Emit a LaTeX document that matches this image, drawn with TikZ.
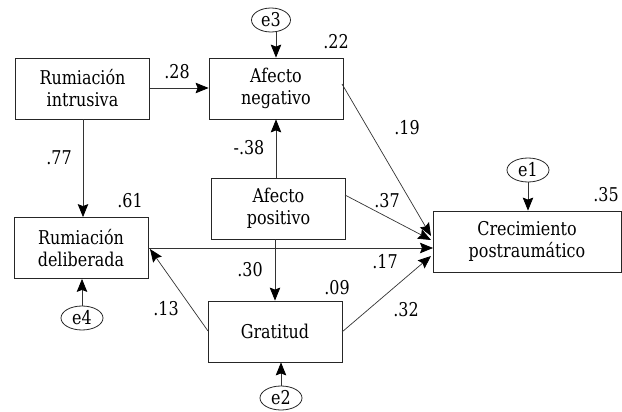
\documentclass[tikz,border=0pt]{standalone}
\usepackage{fontspec}
\setmainfont[FakeStretch=0.84]{DejaVu Serif}
\usetikzlibrary{arrows.meta,calc,shapes.geometric}
\begin{document}
\begin{tikzpicture}[x=1pt,y=-1pt,
  txt/.style={font=\fontsize{19}{22}\selectfont},
  box/.style={txt,draw=black!85,line width=0.8pt,minimum width=134pt,minimum height=61pt,align=center,inner sep=0pt},
  err/.style={txt,draw=black!85,line width=0.8pt,ellipse,minimum width=42pt,minimum height=24pt,inner sep=0pt},
  lab/.style={txt,inner sep=0pt},
  arr/.style={draw=black!80,line width=0.7pt,-{Stealth[length=13pt,width=10.5pt,inset=2pt,color=black]}}
]
\useasboundingbox (0,0) rectangle (622,412);
% boxes
\node[box] (RI) at (82.5,88.5) {Rumiación\\intrusiva};
\node[box] (AN) at (276,88.5) {Afecto\\negativo};
\node[box] (AP) at (278.5,208.5) {Afecto\\positivo};
\node[box] (RD) at (81,248) {Rumiación\\deliberada};
\node[box] (G) at (275,331.5) {Gratitud};
\node[box,minimum width=188pt] (C) at (527,241.5) {Crecimiento\\postraumático};
% errors
\node[err,minimum width=39pt] (e3) at (271,20) {e3};
\node[err] (e1) at (528,170) {e1};
\node[err] (e4) at (82,318) {e4};
\node[err] (e2) at (281,398) {e2};
% coordinates
\coordinate (rie) at (150,88);
\coordinate (rdn) at (83,217.5);
\coordinate (rdtip) at (150,249);
\coordinate (ane) at (342,84);
\coordinate (ape) at (345,195);
\coordinate (gw) at (208,331);
\coordinate (ge) at (342,332);
\coordinate (cA) at (431,236);
\coordinate (cP) at (431,240);
\coordinate (cR) at (433,248);
\coordinate (cG) at (431,256);
% arrows
\draw[arr] (RI.east |- rie) -- (AN.west |- rie);
\draw[arr] (RI.south -| rdn) -- (RD.north -| rdn);
\draw[arr] (AP.north -| AN.south) -- (AN.south);
\draw[arr] (AP.south -| G.north) -- (G.north);
\draw[arr] (ane) -- (cA);
\draw[arr] (ape) -- (cP);
\draw[arr] (RD.east |- cR) -- (cR);
\draw[arr] (ge) -- (cG);
\draw[arr] (gw) -- (rdtip);
\draw[arr] (e3.south -| AN.north) -- (AN.north);
\draw[arr] (e1.south) -- (C.north -| e1.south);
\draw[arr] (e4.north) -- (RD.south -| e4.north);
\draw[arr] (e2.north) -- (G.south -| e2.north);
% labels
\node[lab] (l28) at (177,72) {.28};
\node[lab] (l77) at (59,158) {.77};
\node[lab] (l61) at (130,201) {.61};
\node[lab] (l38) at (249,148) {-.38};
\node[lab] (l22) at (336,42) {.22};
\node[lab] (l19) at (407,128) {.19};
\node[lab] (l37) at (387,201) {.37};
\node[lab] (l35) at (606,195) {.35};
\node[lab] (l30) at (250,270) {.30};
\node[lab] (l13) at (166,309) {.13};
\node[lab] (l09) at (337,288) {.09};
\node[lab] (l17) at (385,262) {.17};
\node[lab] (l32) at (406,310) {.32};
\end{tikzpicture}
\end{document}
